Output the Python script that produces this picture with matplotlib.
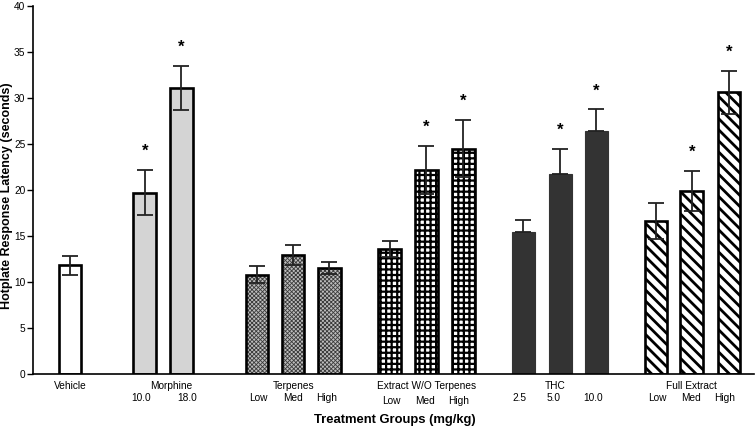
import matplotlib
matplotlib.use("Agg")
import matplotlib.pyplot as plt
from matplotlib.transforms import blended_transform_factory

plt.rcParams['font.family'] = ['Liberation Sans', 'DejaVu Sans']

groups = ["Vehicle", "Morphine", "Terpenes", "Extract W/O Terpenes", "THC", "Full Extract"]
dose_labels = [[], ["10.0", "18.0"], ["Low", "Med", "High"], ["Low", "Med", "High"],
               ["2.5", "5.0", "10.0"], ["Low", "Med", "High"]]
means = [[11.8], [19.7, 31.1], [10.8, 12.9, 11.5], [13.6, 22.2, 24.5],
         [15.4, 21.7, 26.4], [16.6, 19.9, 30.6]]
sems = [[1.05], [2.45, 2.4], [0.95, 1.1, 0.65], [0.85, 2.6, 3.1],
        [1.3, 2.75, 2.35], [1.95, 2.2, 2.3]]
signif = [[False], [True, True], [False, False, False], [False, True, True],
          [False, True, True], [False, True, True]]
# bar centre positions (category slots)
positions = [[1.02], [3.08, 4.08], [6.17, 7.16, 8.16], [9.83, 10.83, 11.85],
             [13.50, 14.52, 15.51], [17.16, 18.15, 19.17]]
# label anchors
group_label_x = [1.02, 3.80, 7.19, 10.83, 14.38, 18.15]
dose_label_x = [[], [2.97, 4.24], [6.22, 7.16, 8.10], [9.86, 10.80, 11.73],
                [13.39, 14.35, 15.42], [17.21, 18.12, 19.04]]

fig = plt.figure(figsize=(7.56, 4.29), dpi=100)
ax = fig.add_axes([33/756, 1-374/429, (754-33)/756, (374-6)/429])

width = 0.63
lw = 1.9

styles = [
    dict(facecolor="white", hatch=None, under=None),
    dict(facecolor="#d4d4d4", hatch=None, under=None),
    dict(facecolor="#bdbdbd", hatch="xxxxxxxx", under="#3a3a3a"),
    dict(facecolor="white", hatch="+++", under=None),
    dict(facecolor="#333333", hatch=None, under=None),
    dict(facecolor="white", hatch="\\\\\\", under=None),
]

for gi in range(len(groups)):
    st = styles[gi]
    xs = positions[gi]
    ys = means[gi]
    es = sems[gi]
    if gi == 2:
        with plt.rc_context({'hatch.linewidth': 0.6}):
            ax.bar(xs, ys, width=width, facecolor=st["facecolor"], edgecolor=st["under"],
                   hatch=st["hatch"], linewidth=0, zorder=2)
        ax.bar(xs, ys, width=width, facecolor="none", edgecolor="black",
               linewidth=lw, zorder=3)
    elif gi == 3:
        with plt.rc_context({'hatch.linewidth': 1.6}):
            ax.bar(xs, ys, width=width, facecolor=st["facecolor"], edgecolor="black",
                   hatch=st["hatch"], linewidth=lw, zorder=2)
    elif gi == 5:
        with plt.rc_context({'hatch.linewidth': 2.0}):
            ax.bar(xs, ys, width=width, facecolor=st["facecolor"], edgecolor="black",
                   hatch=st["hatch"], linewidth=lw, zorder=2)
    elif gi == 4:
        ax.bar(xs, ys, width=width, facecolor=st["facecolor"], edgecolor="#333333",
               linewidth=0.8, zorder=2)
    else:
        ax.bar(xs, ys, width=width, facecolor=st["facecolor"], edgecolor="black",
               linewidth=lw, zorder=2)
    if gi == 4:
        ax.errorbar(xs, ys, yerr=[[0]*len(es), es], fmt="none", ecolor="#222222",
                    elinewidth=1.3, capsize=6, capthick=1.3, zorder=4)
    else:
        ax.errorbar(xs, ys, yerr=es, fmt="none", ecolor="#222222",
                    elinewidth=1.3, capsize=6, capthick=1.3, zorder=4)
    for x, y, e, s in zip(xs, ys, es, signif[gi]):
        if s:
            ax.annotate("*", xy=(x, y + e), xytext=(0, 8), textcoords="offset points",
                        ha="center", va="bottom", fontsize=12, fontweight="bold")

ax.set_xlim(0, 19.86)
ax.set_ylim(0, 40)
ax.set_yticks(range(0, 41, 5))
ax.tick_params(axis="y", direction="out", length=4, width=1, labelsize=7.3, pad=1.5)
ax.set_xticks([])
for sp in ["top", "right"]:
    ax.spines[sp].set_visible(False)
ax.spines["left"].set_linewidth(1.2)
ax.spines["bottom"].set_linewidth(1.2)

trans = blended_transform_factory(ax.transData, fig.transFigure)
for gi, g in enumerate(groups):
    ax.text(group_label_x[gi], 1-386/429, g, transform=trans, ha="center", va="center",
            fontsize=7.3)
    dy = 401 if gi == 3 else 398
    for lx, lab in zip(dose_label_x[gi], dose_labels[gi]):
        ax.text(lx, 1-dy/429, lab, transform=trans, ha="center", va="center", fontsize=7.3)

fig.text(395/756, 1-420/429, "Treatment Groups (mg/kg)", ha="center", va="center",
         fontsize=9.4, fontweight="bold")
fig.text(7/756, 1-196/429, "Hotplate Response Latency (seconds)", ha="center", va="center",
         rotation=90, fontsize=9.0, fontweight="bold")

fig.savefig("out.png", dpi=100)
